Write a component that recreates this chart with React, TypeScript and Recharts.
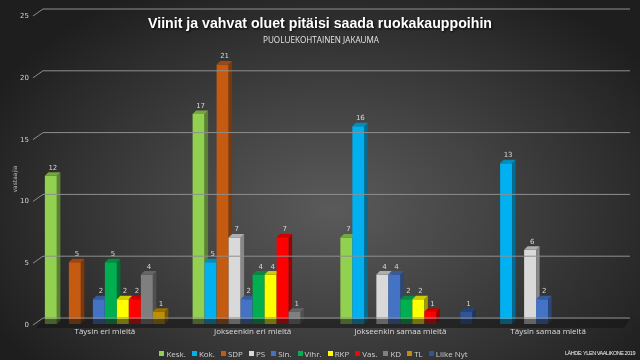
import React from 'react'
import { BarChart, Bar, XAxis, YAxis, CartesianGrid, Legend, LabelList } from 'recharts'

const categories = ['Täysin eri mieltä', 'Jokseenkin eri mieltä', 'Jokseenkin samaa mieltä', 'Täysin samaa mieltä']
const parties = ['Kesk.', 'Kok.', 'SDP', 'PS', 'Sin.', 'Vihr.', 'RKP', 'Vas.', 'KD', 'TL', 'Liike Nyt']
const partyKeys = ['kesk', 'kok', 'sdp', 'ps', 'sin', 'vihr', 'rkp', 'vas', 'kd', 'tl', 'liike']
const partyColors = ['#92d050', '#00b0f0', '#c55a11', '#d9d9d9', '#4472c4', '#00b050', '#ffff00', '#ff0000', '#7f7f7f', '#bf8f00', '#2f5597']
const yTicks = [0, 5, 10, 15, 20, 25]

// values per category (Täysin eri, Jokseenkin eri, Jokseenkin samaa, Täysin samaa)
const kesk = [12, 17, 7, 0]
const kok = [0, 5, 16, 13]
const sdp = [5, 21, 0, 0]
const ps = [0, 7, 4, 6]
const sin = [2, 2, 4, 2]
const vihr = [5, 4, 2, 0]
const rkp = [2, 4, 2, 0]
const vas = [2, 7, 1, 0]
const kd = [4, 1, 0, 0]
const tl = [1, 0, 0, 0]
const liike = [0, 0, 1, 0]

const series = [kesk, kok, sdp, ps, sin, vihr, rkp, vas, kd, tl, liike]

const data = categories.map((name, i) => {
  const row: Record<string, string | number> = { name }
  partyKeys.forEach((k, j) => {
    row[k] = series[j][i]
  })
  return row
})

const GRID_END = 630

function shade(hex: string, f: number) {
  const n = parseInt(hex.slice(1), 16)
  const ch = (v: number) => Math.max(0, Math.min(255, Math.round(v * f)))
  return `rgb(${ch((n >> 16) & 255)},${ch((n >> 8) & 255)},${ch(n & 255)})`
}

const Bar3D = (props: any) => {
  const { x, y, width, height, fill, value } = props
  if (!value || height <= 0) return null
  const d = 3.5
  const w = width
  return (
    <g>
      <rect x={x} y={y} width={w} height={height} fill={fill} />
      <polygon
        points={`${x + w},${y} ${x + w + d},${y - d} ${x + w + d},${y + height - d} ${x + w},${y + height}`}
        fill={shade(fill, 0.62)}
      />
      <polygon
        points={`${x},${y} ${x + d},${y - d} ${x + w + d},${y - d} ${x + w},${y}`}
        fill={shade(fill, 0.8)}
      />
    </g>
  )
}

const ValueLabel = (props: any) => {
  const { x, y, width, value } = props
  if (!value) return null
  return (
    <text x={x + width / 2 + 2} y={y - 6} textAnchor="middle" fontSize={7} fill="#d8d8d8" fontFamily="DejaVu Sans">
      {value}
    </text>
  )
}

const YTick = (props: any) => {
  const { x, y, payload } = props
  return (
    <g>
      {payload.value === 0 && (
        <polygon points={`${x + 7},${y - 5} ${GRID_END},${y - 5} ${GRID_END - 6},${y + 4} ${x},${y + 4}`} fill="#151515" opacity={0.6} />
      )}
      <text x={x - 7} y={y + 3} textAnchor="end" fontSize={7} fill="#cfcfcf" fontFamily="DejaVu Sans">
        {payload.value}
      </text>
      <path d={`M${x - 3},${y + 1} L${x + 7},${y - 6} L${GRID_END},${y - 6}`} stroke="#8f8f8f" strokeWidth={1} fill="none" />
    </g>
  )
}

const XTick = (props: any) => {
  const { x, y, payload } = props
  return (
    <text x={x - 5} y={y + 6} textAnchor="middle" fontSize={8} fill="#dcdcdc" fontFamily="Open Sans">
      {payload.value}
    </text>
  )
}

const renderLegend = () => (
  <div style={{ display: 'flex', justifyContent: 'center', alignItems: 'center', gap: 6, fontFamily: 'Open Sans', fontSize: 8, color: '#d0d0d0', height: 14 }}>
    {parties.map((p, i) => (
      <span key={p} style={{ display: 'flex', alignItems: 'center', gap: 2 }}>
        <span style={{ width: 5, height: 5, background: partyColors[i], display: 'inline-block' }} />
        {p}
      </span>
    ))}
  </div>
)

export default function App() {
  return (
    <div
      style={{
        position: 'fixed',
        left: 0,
        top: 0,
        width: 640,
        height: 360,
        background: 'radial-gradient(ellipse 60% 70% at 52% 58%, #5a5a5a 0%, #444 40%, #2b2b2b 80%, #1e1e1e 100%)',
        overflow: 'hidden',
      }}
    >
      <BarChart
        width={640}
        height={360}
        data={data}
        margin={{ top: 15, right: 13, bottom: 0, left: 0 }}
        barGap={0}
        barCategoryGap="6%"
      >
        <CartesianGrid horizontal={false} vertical={false} />
        <XAxis dataKey="name" axisLine={false} tickLine={false} tickSize={0} tickMargin={4} height={22} tick={<XTick />} interval={0} />
        <YAxis
          domain={[0, 25]}
          ticks={yTicks}
          axisLine={false}
          tickLine={false}
          tickSize={0}
          tickMargin={0}
          width={36}
          tick={<YTick />}
          interval={0}
        />
        <Legend verticalAlign="bottom" height={14} content={renderLegend} />
        {partyKeys.map((k, i) => (
          <Bar key={k} dataKey={k} name={parties[i]} fill={partyColors[i]} shape={<Bar3D />} isAnimationActive={false}>
            <LabelList dataKey={k} content={<ValueLabel />} />
          </Bar>
        ))}
      </BarChart>
      <svg width={640} height={360} style={{ position: 'absolute', left: 0, top: 0, pointerEvents: 'none' }}>
        <text
          x={320}
          y={28}
          textAnchor="middle"
          fontSize={14}
          fontWeight="bold"
          fill="#ffffff"
          fontFamily="Liberation Sans"
          textLength={344}
          lengthAdjust="spacingAndGlyphs"
          style={{ filter: 'drop-shadow(1px 1px 1px rgba(0,0,0,0.85))' }}
        >
          Viinit ja vahvat oluet pitäisi saada ruokakauppoihin
        </text>
        <text x={321} y={43} textAnchor="middle" fontSize={8.5} fill="#e6e6e6" fontFamily="Open Sans" textLength={116} lengthAdjust="spacingAndGlyphs">
          PUOLUEKOHTAINEN JAKAUMA
        </text>
        <text x={17} y={179} textAnchor="middle" fontSize={6} fill="#bdbdbd" fontFamily="DejaVu Sans" transform="rotate(-90 17 179)">
          vastaajia
        </text>
        <text x={635} y={355} textAnchor="end" fontSize={5.5} letterSpacing={-0.45} fill="#f0f0f0" fontFamily="Liberation Sans">
          LÄHDE: YLEN VAALIKONE 2019
        </text>
      </svg>
    </div>
  )
}
